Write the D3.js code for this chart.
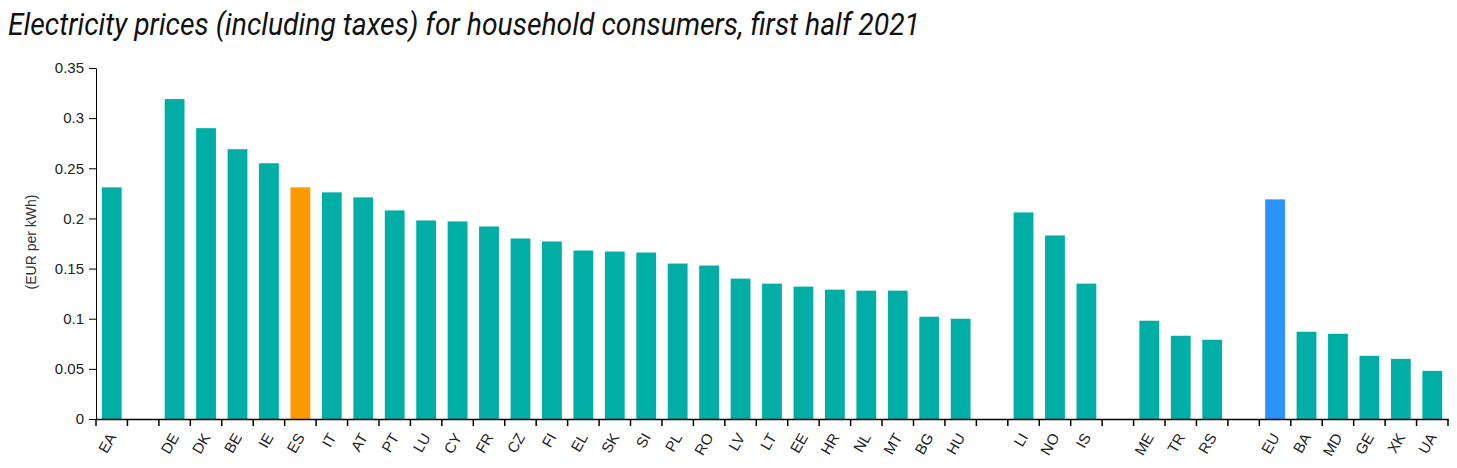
<!DOCTYPE html>
<html>
<head>
<meta charset="utf-8">
<script src="https://cdn.jsdelivr.net/npm/d3@7"></script>
<style>
  body { margin: 0; background: #fff; }
  svg { display: block; }
</style>
</head>
<body>
<svg id="chart"></svg>
<script>
// categories in display order, "_g" slots are empty spacer bands
const categories = ["EA", "_g1", "DE", "DK", "BE", "IE", "ES", "IT", "AT", "PT", "LU", "CY", "FR", "CZ", "FI",
  "EL", "SK", "SI", "PL", "RO", "LV", "LT", "EE", "HR", "NL", "MT", "BG", "HU", "_g2",
  "LI", "NO", "IS", "_g3", "ME", "TR", "RS", "_g4", "EU", "BA", "MD", "GE", "XK", "UA"];

const prices = [0.231, null, 0.319, 0.290, 0.269, 0.255, 0.231, 0.226, 0.221, 0.208, 0.198, 0.197, 0.192, 0.180, 0.177,
  0.168, 0.167, 0.166, 0.155, 0.153, 0.140, 0.135, 0.132, 0.129, 0.128, 0.128, 0.102, 0.100, null,
  0.206, 0.183, 0.135, null, 0.098, 0.083, 0.079, null, 0.219, 0.087, 0.085, 0.063, 0.060, 0.048];

const highlight = { ES: "#ff9900", EU: "#2a93fc" };
const yTicks = [0, 0.05, 0.1, 0.15, 0.2, 0.25, 0.3, 0.35];

const W = 1457, H = 468;
const margin = { top: 68, right: 9, bottom: 49, left: 96 };
const width = W - margin.left - margin.right;
const height = H - margin.top - margin.bottom;

const svg = d3.select("#chart").attr("width", W).attr("height", H);

svg.append("text")
  .attr("x", 8)
  .attr("y", 35)
  .attr("textLength", 912)
  .attr("lengthAdjust", "spacingAndGlyphs")
  .style("font-family", "Roboto, sans-serif")
  .style("font-style", "italic")
  .style("font-size", "31px")
  .style("fill", "#111")
  .text("Electricity prices (including taxes) for household consumers, first half 2021");

const g = svg.append("g").attr("transform", `translate(${margin.left},${margin.top})`);

const x = d3.scaleBand()
  .domain(categories)
  .range([0, width])
  .paddingInner(0.37)
  .paddingOuter(0.185);

const y = d3.scaleLinear()
  .domain([0, 0.35])
  .range([height, 0]);

const data = categories.map((c, i) => ({ name: c, value: prices[i] }))
  .filter(d => d.value != null);

g.selectAll("rect")
  .data(data)
  .enter()
  .append("rect")
  .attr("x", d => x(d.name))
  .attr("y", d => y(d.value))
  .attr("width", x.bandwidth())
  .attr("height", d => height - y(d.value))
  .attr("fill", d => highlight[d.name] || "#00aea6");

// y axis
const yAxis = g.append("g")
  .call(d3.axisLeft(y).tickValues(yTicks).tickFormat(d3.format("~f")).tickSize(7).tickSizeOuter(0).tickPadding(5));
yAxis.attr("font-size", 15);
yAxis.select(".domain").attr("stroke", "#000");
yAxis.selectAll(".tick line").attr("stroke", "#000");
yAxis.selectAll("text")
  .style("font-family", "'Liberation Sans', Arial, sans-serif")
  .style("fill", "#222");

svg.append("text")
  .attr("transform", `translate(36,242) rotate(-90)`)
  .attr("text-anchor", "middle")
  .attr("font-size", 14)
  .style("font-family", "'Liberation Sans', Arial, sans-serif")
  .style("fill", "#333")
  .text("(EUR per kWh)");

// x axis: labels at band centres, ticks at band boundaries
const xAxis = g.append("g")
  .attr("transform", `translate(0,${height})`)
  .call(d3.axisBottom(x).tickSize(0).tickSizeOuter(0).tickFormat(d => d.startsWith("_") ? "" : d));
xAxis.attr("font-size", 15);
xAxis.select(".domain").attr("stroke", "#000").attr("stroke-width", 1.5);
xAxis.selectAll("text")
  .attr("text-anchor", "end")
  .attr("y", 0)
  .attr("dy", 0)
  .attr("transform", "translate(5,18) rotate(-60)")
  .style("font-family", "'Liberation Sans', Arial, sans-serif")
  .style("fill", "#222");

const step = x.step();
const edges = categories.map(c => x(c) - (step - x.bandwidth()) / 2).concat([width]);
xAxis.selectAll(".edge")
  .data(edges)
  .enter()
  .append("line")
  .attr("class", "edge")
  .attr("x1", d => d).attr("x2", d => d)
  .attr("y1", 0).attr("y2", 7)
  .attr("stroke", "#000")
  .attr("stroke-width", 1.5);
</script>
</body>
</html>
